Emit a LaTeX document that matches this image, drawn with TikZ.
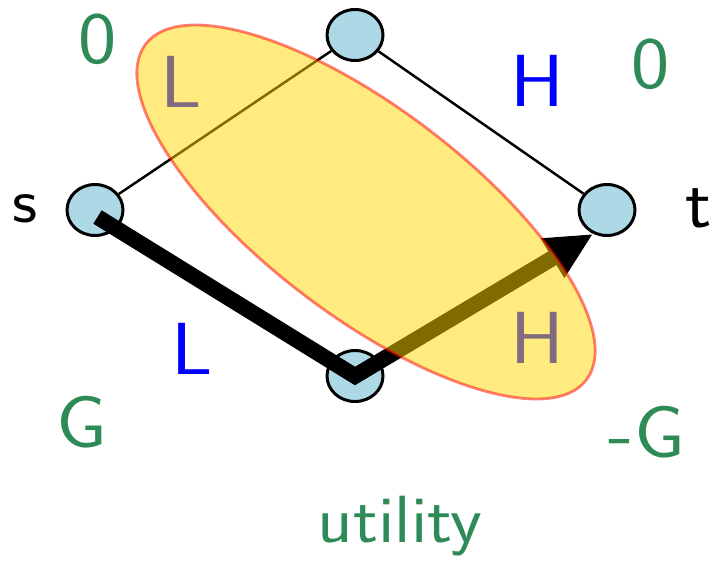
\documentclass[tikz,border=0pt]{standalone}
\usepackage{xcolor}
\usetikzlibrary{arrows.meta,positioning,shapes.geometric,calc}
\definecolor{payoff}{HTML}{2E8B57}
\definecolor{nodeblue}{HTML}{ADD8E6}
\definecolor{hiyellow}{RGB}{255,215,0}
\newcommand{\hwide}[1]{\scalebox{1.1}[1]{#1}}
\tikzset{
  vertex/.style={
    ellipse, draw=black, fill=nodeblue, line width=1.7pt,
    minimum width=1.12cm, minimum height=1.02cm, inner sep=0pt
  },
  edgeline/.style={line width=1.4pt, black},
  routepath/.style={
    line width=9pt, black, -{Triangle[length=0.95cm,width=0.85cm]}
  },
  biglabel/.style={
    font=\fontsize{42}{50}\selectfont\sffamily, text=#1, inner sep=0pt
  },
  biglabel/.default=black,
  hilite/.style={draw=red, fill=hiyellow, opacity=0.5, line width=1.6pt}
}

\begin{document}
\begin{tikzpicture}
  \useasboundingbox (0,0) rectangle (14.24,11.36);

  % Vertices
  \node[vertex] (s) at (1.9,7.16) {};
  \node[vertex] (u) at (7.1,10.66) {};
  \node[vertex] (t) at (12.14,7.16) {};
  \node[vertex] (b) at (7.1,3.84) {};

  % Upper route
  \draw[edgeline] (s) -- (u);
  \draw[edgeline] (u) -- (t);

  % Chosen route
  \draw[routepath] ($(s.center)+(0.05,-0.14)$) -- (b.center) -- (t.240);

  % Names
  \node[biglabel, font=\fontsize{36}{43}\selectfont\sffamily] (sname) at (0.50,7.19) {\hwide{s}};
  \node[biglabel, font=\fontsize{40}{48}\selectfont\sffamily] (tname) at (13.98,7.20) {\hwide{t}};

  % Edge labels
  \node[biglabel=blue] (ltop) at (3.63,9.73) {\hwide{L}};
  \node[biglabel=blue] (htop) at (10.74,9.74) {\hwide{H}};
  \node[biglabel=blue] (lbot) at (3.84,4.39) {\hwide{L}};
  \node[biglabel=blue] (hbot) at (10.75,4.60) {\hwide{H}};

  % Payoffs
  \node[biglabel=payoff] (zleft) at (1.95,10.57) {\hwide{0}};
  \node[biglabel=payoff] (zright) at (13.02,10.08) {\hwide{0}};
  \node[biglabel=payoff] (gleft) at (1.64,2.91) {\hwide{G}};
  \node[biglabel=payoff] (gright) at (12.94,2.71) {\hwide{-G}};
  \node[biglabel=payoff, font=\fontsize{38}{46}\selectfont\sffamily, anchor=base]
    (util) at (8.0,0.52) {\hwide{utility}};

  % Highlight
  \draw[hilite, shift={(7.32,7.12)}, rotate=-37.3] (0,0) ellipse [x radius=5.54cm, y radius=2.07cm];
\end{tikzpicture}
\end{document}
